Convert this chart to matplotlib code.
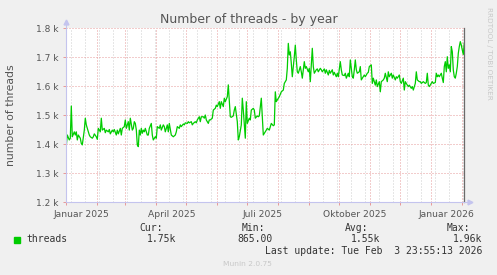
import numpy as np
import matplotlib
matplotlib.use("Agg")
import matplotlib.pyplot as plt
import matplotlib.dates as mdates
from matplotlib.ticker import FuncFormatter, MultipleLocator

# days since 2025-01-01 and thread counts
days = [0, 1, 3, 4, 5, 6, 8, 9, 10, 11, 12, 14, 15, 16, 18, 19, 20, 22, 23, 24,
        26, 27, 28, 30, 31, 32, 34, 35, 36, 38, 39, 40, 42, 43, 44, 46, 47, 48, 50, 51,
        52, 54, 55, 56, 58, 59, 60, 62, 63, 64, 66, 67, 68, 69, 70, 71, 72, 73, 74, 75,
        76, 77, 78, 79, 80, 81, 82, 83, 85, 86, 87, 89, 90, 91, 93, 94, 95, 97, 98, 99,
        101, 102, 103, 105, 106, 107, 109, 110, 111, 113, 114, 115, 117, 118, 119, 121, 122, 123, 125, 126,
        127, 129, 130, 131, 133, 134, 135, 137, 138, 139, 140, 142, 143, 144, 146, 147, 149, 150, 151, 153,
        154, 155, 157, 158, 159, 161, 162, 163, 164, 165, 167, 168, 169, 171, 172, 173, 175, 176, 177, 179,
        180, 181, 183, 184, 185, 187, 188, 189, 191, 192, 193, 195, 196, 197, 199, 200, 201, 203, 204, 205,
        207, 208, 209, 210, 211, 213, 214, 215, 217, 218, 220, 221, 222, 223, 224, 225, 226, 228, 229, 230,
        231, 232, 234, 235, 236, 238, 239, 240, 242, 243, 244, 246, 247, 248, 250, 251, 252, 254, 255, 256,
        258, 259, 260, 262, 263, 264, 266, 267, 268, 270, 271, 272, 274, 275, 276, 278, 279, 280, 282, 283,
        284, 286, 287, 288, 289, 290, 291, 293, 294, 295, 297, 298, 299, 301, 302, 303, 305, 306, 307, 309,
        310, 311, 313, 314, 315, 317, 318, 319, 321, 322, 323, 325, 326, 327, 329, 330, 331, 333, 334, 335,
        337, 338, 339, 341, 342, 343, 345, 346, 347, 349, 350, 351, 353, 354, 355, 357, 358, 359, 360, 361,
        362, 363, 365, 366, 367, 369, 370, 371, 372, 373, 375, 376, 377, 378, 379, 380, 381, 382, 383, 384,
        385, 386, 387, 388, 389, 390, 391, 392, 393, 394, 395, 396, 397, 398]
threads = [1395, 1432, 1415, 1421, 1532, 1426, 1443, 1432, 1443, 1415, 1432, 1421, 1403, 1398, 1449, 1490, 1467, 1443, 1432, 1426,
           1421, 1426, 1436, 1426, 1417, 1455, 1443, 1490, 1449, 1455, 1440, 1449, 1443, 1451, 1436, 1449, 1443, 1451, 1432, 1449,
           1436, 1455, 1432, 1455, 1461, 1484, 1455, 1478, 1449, 1490, 1449, 1455, 1478, 1472, 1450, 1398, 1392, 1449, 1432, 1455,
           1438, 1449, 1443, 1455, 1443, 1432, 1432, 1455, 1472, 1432, 1415, 1426, 1421, 1461, 1455, 1467, 1449, 1467, 1461, 1443,
           1467, 1443, 1472, 1432, 1429, 1426, 1432, 1443, 1461, 1455, 1467, 1461, 1470, 1467, 1474, 1472, 1478, 1474, 1478, 1467,
           1472, 1478, 1474, 1484, 1495, 1478, 1495, 1495, 1490, 1501, 1484, 1472, 1484, 1484, 1490, 1518, 1524, 1535, 1530, 1547,
           1524, 1547, 1530, 1559, 1547, 1564, 1605, 1547, 1495, 1493, 1498, 1518, 1530, 1478, 1415, 1426, 1467, 1559, 1518, 1421,
           1547, 1472, 1490, 1484, 1518, 1524, 1518, 1490, 1498, 1495, 1498, 1559, 1495, 1432, 1443, 1449, 1455, 1449, 1461, 1472,
           1464, 1467, 1581, 1547, 1553, 1564, 1573, 1581, 1587, 1610, 1622, 1662, 1748, 1708, 1719, 1679, 1633, 1702, 1742, 1691,
           1650, 1645, 1668, 1650, 1628, 1685, 1662, 1668, 1650, 1662, 1616, 1731, 1668, 1645, 1657, 1660, 1650, 1662, 1657, 1650,
           1660, 1645, 1657, 1639, 1655, 1645, 1657, 1639, 1648, 1633, 1645, 1633, 1685, 1657, 1639, 1637, 1645, 1628, 1645, 1633,
           1691, 1633, 1628, 1657, 1691, 1657, 1645, 1650, 1668, 1622, 1633, 1639, 1633, 1645, 1648, 1668, 1674, 1610, 1628, 1604,
           1622, 1599, 1616, 1581, 1616, 1622, 1628, 1645, 1616, 1650, 1633, 1645, 1628, 1639, 1622, 1633, 1628, 1639, 1616, 1610,
           1628, 1587, 1616, 1604, 1599, 1604, 1593, 1599, 1587, 1610, 1650, 1622, 1616, 1616, 1610, 1616, 1613, 1610, 1613, 1645,
           1604, 1599, 1610, 1616, 1610, 1613, 1645, 1633, 1639, 1633, 1645, 1628, 1613, 1668, 1685, 1650, 1702, 1662, 1674, 1650,
           1737, 1719, 1656, 1633, 1628, 1645, 1668, 1714, 1737, 1754, 1742, 1725, 1710, 1748]

series_name = "threads"
stat_labels = ["Cur:", "Min:", "Avg:", "Max:"]
stat_values = ["1.75k", "865.00", "1.55k", "1.96k"]
last_update = "Last update: Tue Feb  3 23:55:13 2026"
month_labels = ["Januar 2025", "April 2025", "Juli 2025", "Oktober 2025", "Januar 2026"]
label_dates = ["2025-01-16", "2025-04-16", "2025-07-16", "2025-10-16", "2026-01-16"]

start = np.datetime64("2025-01-01")
dates = start + np.array(days).astype("timedelta64[D]")

W, H = 497, 275
fig = plt.figure(figsize=(W / 100, H / 100), dpi=100, facecolor="#f0f0f0")
ax = fig.add_axes([66.3 / W, 1 - 202.3 / H, 398 / W, 174 / H])
ax.set_facecolor("white")

ax.plot(dates, threads, color="#00cc00", lw=0.9, zorder=3)

ax.set_xlim(np.datetime64("2025-01-01"), np.datetime64("2026-02-03"))
ax.set_ylim(1200, 1800)

red = "#e79a9a"
gray = "#cfcfcf"
ax.yaxis.set_major_locator(MultipleLocator(100))
ax.yaxis.set_major_formatter(FuncFormatter(lambda v, p: f"{v / 1000:.1f} k"))
ax.xaxis.set_major_locator(mdates.MonthLocator())
ax.xaxis.set_minor_locator(mdates.WeekdayLocator(byweekday=mdates.MO, interval=2))
ax.xaxis.set_major_formatter(plt.NullFormatter())
ax.grid(which="major", color=red, lw=0.72, ls=(0, (1, 2)))
ax.grid(which="minor", axis="x", color=gray, lw=0.72, ls=(0, (1, 2)))
ax.set_axisbelow(True)
ax.tick_params(axis="both", which="major", length=2.5, width=0.72, color=red,
               labelsize=6.5, labelcolor="#555555", pad=3)
ax.tick_params(axis="x", which="minor", length=0)

# month names centred mid-month
sec = ax.secondary_xaxis("bottom")
sec.set_xticks(np.array(label_dates, dtype="datetime64[D]"), month_labels)
sec.tick_params(length=0, pad=5.5, labelsize=6.6, labelcolor="#555555")
for s in sec.spines.values():
    s.set_visible(False)

for side in ["top", "left", "bottom"]:
    ax.spines[side].set_visible(False)
ax.spines["right"].set_color("#6a6a6a")
ax.spines["right"].set_linewidth(0.9)

axis_col = "#c4c4ee"
ax.plot([0, 0], [0, 1.035], color=axis_col, lw=0.8, transform=ax.transAxes, clip_on=False, zorder=4)
ax.plot([0, 1.015], [0, 0], color=axis_col, lw=0.8, transform=ax.transAxes, clip_on=False, zorder=4)
ax.plot([0], [1.035], marker="^", ms=3.5, color=axis_col, transform=ax.transAxes, clip_on=False)
ax.plot([1.015], [0], marker=">", ms=3.5, color=axis_col, transform=ax.transAxes, clip_on=False)

fig.text(248.8 / W, 1 - 19 / H, "Number of threads - by year", ha="center", va="center",
         fontsize=9, color="#555555")
fig.text(11 / W, 1 - 115 / H, "number of threads", ha="center", va="center", rotation=90,
         fontsize=7.8, color="#555555")
fig.text(488.5 / W, 1 - 53 / H, "RRDTOOL / TOBI OETIKER", ha="center", va="center",
         rotation=270, fontsize=5.2, color="#c8c8c8")

# legend area
mono = "DejaVu Sans Mono"
txt = "#333333"
fig.patches.append(plt.Rectangle((14 / W, 1 - 242.7 / H), 6 / W, 6 / H, transform=fig.transFigure,
                                 color="#00cc00"))
fig.text(26.7 / W, 1 - 239.3 / H, series_name, family=mono, fontsize=7, color=txt, va="center")
stat_right = [163.3, 265, 368.3, 470]
value_right = [176, 272.3, 380.7, 482.7]
for lab, val, xr, vr in zip(stat_labels, stat_values, stat_right, value_right):
    fig.text(xr / W, 1 - 228.3 / H, lab, family=mono, fontsize=7, color=txt, ha="right", va="center")
    fig.text(vr / W, 1 - 239.3 / H, val, family=mono, fontsize=7, color=txt, ha="right", va="center")
fig.text(482.7 / W, 1 - 251 / H, last_update, family=mono, fontsize=7, color=txt, ha="right", va="center")
fig.text(247.8 / W, 1 - 264 / H, "Munin 2.0.75", fontsize=5.4, color="#c8c8c8", ha="center", va="center")

fig.savefig("out.png", dpi=100, facecolor=fig.get_facecolor())
